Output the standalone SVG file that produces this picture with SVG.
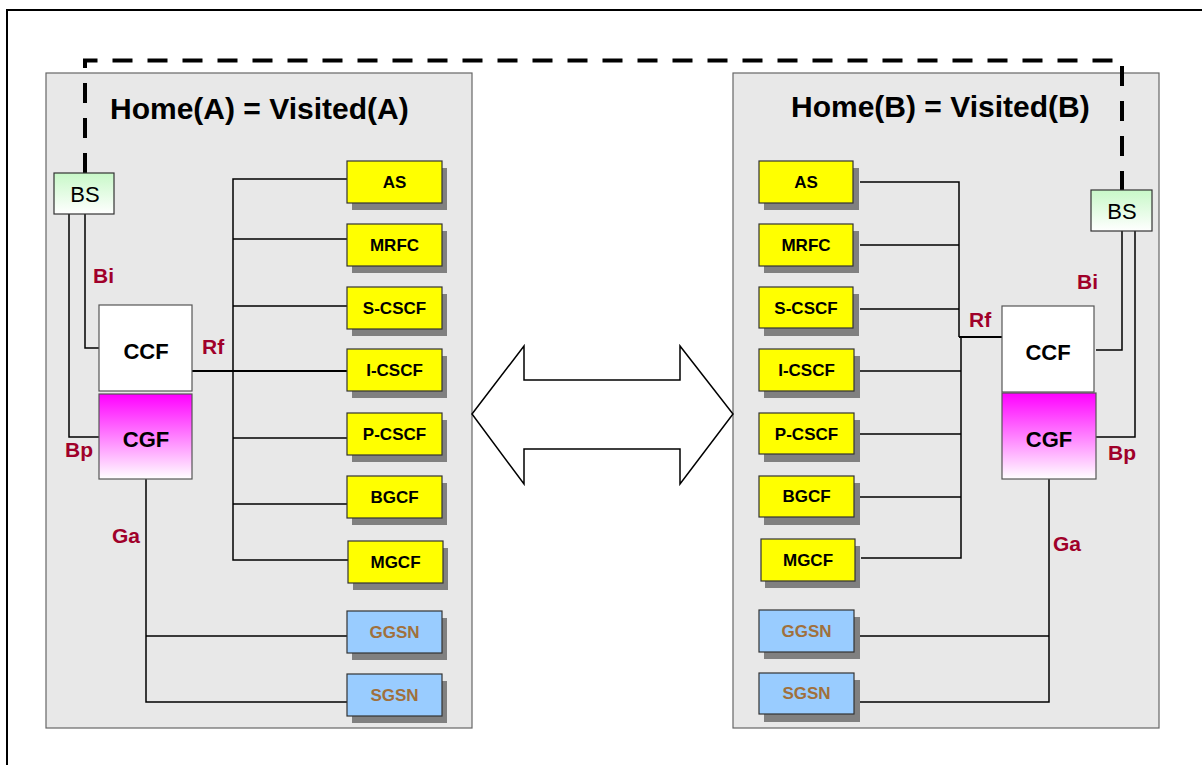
<svg xmlns="http://www.w3.org/2000/svg" width="1202" height="765" viewBox="0 0 1202 765">
<defs>
<linearGradient id="gBS" x1="0" y1="0" x2="0" y2="1"><stop offset="0" stop-color="#c8f8c8"/><stop offset="1" stop-color="#ffffff"/></linearGradient>
<linearGradient id="gCGF" x1="0" y1="0" x2="0" y2="1"><stop offset="0" stop-color="#ff00ff"/><stop offset="1" stop-color="#ffffff"/></linearGradient>
</defs>
<style>
.panel{fill:#e8e8e8;stroke:#666;stroke-width:1.2}
.sh{fill:#808080}
.y{fill:#ffff00;stroke:#333;stroke-width:1.2}
.b{fill:#99ccff;stroke:#333;stroke-width:1.2}
.w{fill:#ffffff;stroke:#555;stroke-width:1.2}
.t{font-family:"Liberation Sans",Arial,sans-serif;font-weight:bold;text-anchor:middle}
.nt{font-size:17px;fill:#000}
.gt{font-size:17px;fill:#a0703c}
.big{font-size:22px;fill:#000}
.lab{font-family:"Liberation Sans",Arial,sans-serif;font-weight:bold;font-size:21px;fill:#a0002a}
.title{font-family:"Liberation Sans",Arial,sans-serif;font-weight:bold;font-size:30px;fill:#000}
.c{fill:none;stroke:#000;stroke-width:1.5}
</style>
<path d="M7,765 V10 H1202" fill="none" stroke="#000" stroke-width="2"/>
<g id="panelA"><rect class="panel" x="46" y="73" width="426" height="655"/></g>
<g id="panelB"><rect class="panel" x="733" y="73" width="426" height="655"/></g>
<text class="title" x="110" y="119">Home(A) = Visited(A)</text>
<text class="title" x="791" y="117">Home(B) = Visited(B)</text>

<g id="connectors">
<path d="M85,173 V60.5 H1122 V190" fill="none" stroke="#000" stroke-width="4" stroke-dasharray="20 15"/>
<path class="c" d="M85,214 V348 H99"/>
<path class="c" d="M69,214 V437 H99"/>
<path class="c" d="M347,179 H233 V560 H348"/>
<path class="c" d="M233,239 H347 M233,306 H347 M233,438 H347 M233,504 H347"/>
<path d="M192,371 H347" fill="none" stroke="#000" stroke-width="2"/>
<path class="c" d="M146,479 V702 H347 M146,636 H347"/>
<path class="c" d="M860,182 H959 V337 M860,245 H959 M860,309 H959"/>
<path d="M959,337 H1002" fill="none" stroke="#000" stroke-width="2"/>
<path class="c" d="M961,337 V558 H861 M860,371 H961 M860,434 H961 M860,497 H961"/>
<path class="c" d="M1122,231 V350 H1096"/>
<path class="c" d="M1135,231 V437 H1096"/>
<path class="c" d="M1049,479 V702 H860 M1049,636 H860"/>
</g>

<g id="arrow"><path d="M472,414 L524,346 V380 H680 V346 L733,414 L680,484 V449 H524 V484 Z" fill="#fff" stroke="#000" stroke-width="1.5"/></g>

<g id="BS-A"><rect x="54" y="173" width="60" height="41" fill="url(#gBS)" stroke="#333" stroke-width="1.2"/><text x="85" y="202" font-family="Liberation Sans,Arial,sans-serif" font-size="22" text-anchor="middle">BS</text></g>
<g id="CCF-A"><rect class="w" x="99" y="305" width="93" height="86"/><text class="t big" x="146" y="359">CCF</text></g>
<g id="CGF-A"><rect x="99" y="394" width="93" height="85" fill="url(#gCGF)" stroke="#555" stroke-width="1.2"/><text class="t big" x="146" y="447">CGF</text></g>
<g id="AS-A"><rect class="sh" x="352" y="168" width="95" height="42"/><rect class="y" x="347" y="161" width="95" height="42"/><text class="t nt" x="394.5" y="188">AS</text></g>
<g id="MRFC-A"><rect class="sh" x="352" y="231" width="95" height="42"/><rect class="y" x="347" y="224" width="95" height="42"/><text class="t nt" x="394.5" y="251">MRFC</text></g>
<g id="SCSCF-A"><rect class="sh" x="352" y="294" width="95" height="42"/><rect class="y" x="347" y="287" width="95" height="42"/><text class="t nt" x="394.5" y="314">S-CSCF</text></g>
<g id="ICSCF-A"><rect class="sh" x="352" y="356" width="95" height="42"/><rect class="y" x="347" y="349" width="95" height="42"/><text class="t nt" x="394.5" y="376">I-CSCF</text></g>
<g id="PCSCF-A"><rect class="sh" x="352" y="420" width="95" height="42"/><rect class="y" x="347" y="413" width="95" height="42"/><text class="t nt" x="394.5" y="440">P-CSCF</text></g>
<g id="BGCF-A"><rect class="sh" x="352" y="483" width="95" height="42"/><rect class="y" x="347" y="476" width="95" height="42"/><text class="t nt" x="394.5" y="503">BGCF</text></g>
<g id="MGCF-A"><rect class="sh" x="353" y="548" width="95" height="42"/><rect class="y" x="348" y="541" width="95" height="42"/><text class="t nt" x="395.5" y="568">MGCF</text></g>
<g id="GGSN-A"><rect class="sh" x="352" y="618" width="95" height="42"/><rect class="b" x="347" y="611" width="95" height="42"/><text class="t gt" x="394.5" y="638">GGSN</text></g>
<g id="SGSN-A"><rect class="sh" x="352" y="681" width="95" height="42"/><rect class="b" x="347" y="674" width="95" height="42"/><text class="t gt" x="394.5" y="701">SGSN</text></g>
<text class="lab" x="93" y="283">Bi</text>
<text class="lab" x="65" y="457">Bp</text>
<text class="lab" x="202" y="354">Rf</text>
<text class="lab" x="112" y="543">Ga</text>

<g id="BS-B"><rect x="1091" y="190" width="61" height="41" fill="url(#gBS)" stroke="#333" stroke-width="1.2"/><text x="1122" y="219" font-family="Liberation Sans,Arial,sans-serif" font-size="22" text-anchor="middle">BS</text></g>
<g id="CCF-B"><rect class="w" x="1002" y="306" width="92" height="86"/><text class="t big" x="1048" y="360">CCF</text></g>
<g id="CGF-B"><rect x="1002" y="393" width="94" height="86" fill="url(#gCGF)" stroke="#555" stroke-width="1.2"/><text class="t big" x="1049" y="447">CGF</text></g>
<g id="AS-B"><rect class="sh" x="764" y="168" width="95" height="42"/><rect class="y" x="759" y="161" width="94" height="42"/><text class="t nt" x="806" y="188">AS</text></g>
<g id="MRFC-B"><rect class="sh" x="764" y="231" width="95" height="42"/><rect class="y" x="759" y="224" width="94" height="42"/><text class="t nt" x="806" y="251">MRFC</text></g>
<g id="SCSCF-B"><rect class="sh" x="764" y="294" width="95" height="42"/><rect class="y" x="759" y="287" width="94" height="41"/><text class="t nt" x="806" y="314">S-CSCF</text></g>
<g id="ICSCF-B"><rect class="sh" x="764" y="356" width="96" height="42"/><rect class="y" x="759" y="349" width="95" height="42"/><text class="t nt" x="806.5" y="376">I-CSCF</text></g>
<g id="PCSCF-B"><rect class="sh" x="764" y="420" width="96" height="42"/><rect class="y" x="759" y="413" width="95" height="41"/><text class="t nt" x="806.5" y="440">P-CSCF</text></g>
<g id="BGCF-B"><rect class="sh" x="764" y="483" width="96" height="42"/><rect class="y" x="759" y="476" width="95" height="41"/><text class="t nt" x="806.5" y="502">BGCF</text></g>
<g id="MGCF-B"><rect class="sh" x="765" y="546" width="95" height="42"/><rect class="y" x="761" y="539" width="94" height="42"/><text class="t nt" x="808" y="566">MGCF</text></g>
<g id="GGSN-B"><rect class="sh" x="764" y="617" width="96" height="42"/><rect class="b" x="759" y="610" width="95" height="42"/><text class="t gt" x="806.5" y="637">GGSN</text></g>
<g id="SGSN-B"><rect class="sh" x="764" y="680" width="96" height="42"/><rect class="b" x="759" y="673" width="95" height="41"/><text class="t gt" x="806.5" y="699">SGSN</text></g>
<text class="lab" x="1077" y="289">Bi</text>
<text class="lab" x="1108" y="460">Bp</text>
<text class="lab" x="969" y="327">Rf</text>
<text class="lab" x="1053" y="551">Ga</text>
</svg>
